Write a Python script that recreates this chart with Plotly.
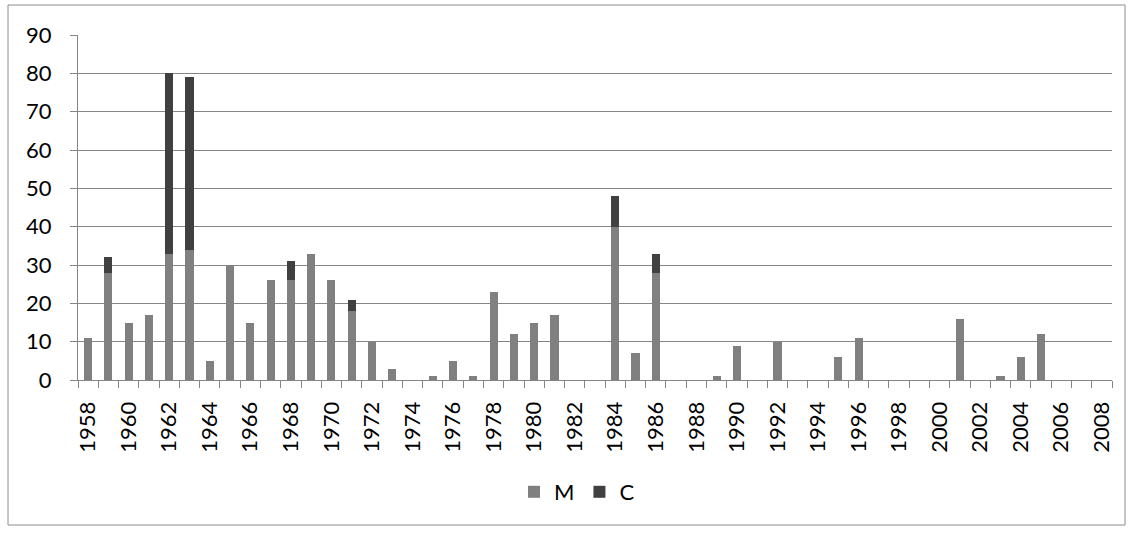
import plotly.graph_objects as go

years = list(range(1958, 2009))
m_values = [11, 28, 15, 17, 33, 34, 5, 30, 15, 26,
            26, 33, 26, 18, 10, 3, 0, 1, 5, 1,
            23, 12, 15, 17, 0, 0, 40, 7, 28, 0,
            0, 1, 9, 0, 10, 0, 0, 6, 11, 0,
            0, 0, 0, 16, 0, 1, 6, 12, 0, 0,
            0]
c_values = [0, 4, 0, 0, 47, 45, 0, 0, 0, 0,
            5, 0, 0, 3, 0, 0, 0, 0, 0, 0,
            0, 0, 0, 0, 0, 0, 8, 0, 5, 0,
            0, 0, 0, 0, 0, 0, 0, 0, 0, 0,
            0, 0, 0, 0, 0, 0, 0, 0, 0, 0,
            0]
tick_years = list(range(1958, 2009, 2))

W, H = 1134, 534
L, R, T, B = 78, 22, 35, 154
pw, ph = W - L - R, H - T - B

grid = "#868686"
font = "Lato, 'Open Sans', sans-serif"

fig = go.Figure()
fig.add_bar(x=years, y=m_values, name="M", marker=dict(color="#808080", line=dict(width=0)))
fig.add_bar(x=years, y=c_values, name="C", marker=dict(color="#404040", line=dict(width=0)))

# outer chart frame, expressed in plot-area paper units
fx0, fx1 = (8 - L) / pw, (1125 - L) / pw
fy0, fy1 = (H - B - 525) / ph, (H - B - 5) / ph
fig.add_shape(type="rect", xref="paper", yref="paper", x0=fx0, x1=fx1, y0=fy0, y1=fy1,
              line=dict(color="#8c8c8c", width=1), fillcolor="rgba(0,0,0,0)", layer="below")

fig.update_layout(
    width=W, height=H,
    margin=dict(l=L, r=R, t=T, b=B),
    barmode="stack", bargap=0.6,
    plot_bgcolor="white", paper_bgcolor="white",
    font=dict(family=font, size=22, color="#000000"),
    showlegend=True,
    legend=dict(orientation="h", x=(577 - L) / pw, xanchor="center",
                y=(H - B - 492) / ph, yanchor="middle", traceorder="normal",
                font=dict(size=22), itemwidth=30, tracegroupgap=0,
                bgcolor="rgba(0,0,0,0)"),
)
fig.update_xaxes(
    range=[1957.5, 2008.5], tickmode="array", tickvals=tick_years,
    ticktext=[str(y) for y in tick_years], tickangle=-90,
    ticks="", showgrid=False, zeroline=False,
    showline=True, linecolor=grid, linewidth=1,
    tickfont=dict(size=22), ticklabelstandoff=12,
    minor=dict(ticks="outside", tick0=1957.5, dtick=1, ticklen=7,
               tickcolor=grid, tickwidth=1, showgrid=False),
)
fig.update_yaxes(
    range=[0, 90], dtick=10, showgrid=True, gridcolor=grid, gridwidth=1,
    zeroline=False, showline=True, linecolor=grid, linewidth=1,
    ticks="outside", ticklen=7, tickcolor=grid, tickfont=dict(size=22),
    ticklabelstandoff=14,
)

fig.write_html("out.html")
